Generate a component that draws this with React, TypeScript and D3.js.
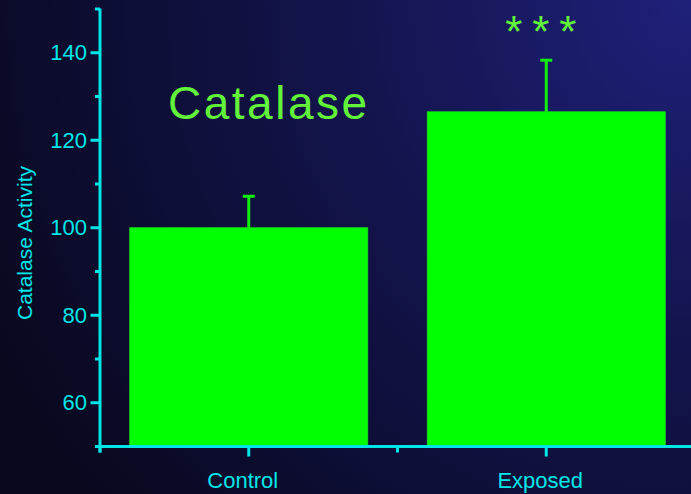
import React from "react";
import * as d3 from "d3";

const categories = ["Control", "Exposed"];
const values = [100, 126.5];
const errors = [7.2, 11.8];
const majorTicks = [60, 80, 100, 120, 140];
const minorTicks = [50, 70, 90, 110, 130, 150];
const title = "Catalase";
const yTitle = "Catalase Activity";
const significance = ["", "*"];

const W = 691;
const H = 494;
const CYAN = "#00e6e6";
const GREEN = "#00ff00";
const LIGHT_GREEN = "#62f23a";
const FONT = "'Liberation Sans', Arial, sans-serif";

export default function App() {
  const x = d3
    .scaleBand<string>()
    .domain(categories)
    .range([100, 695])
    .paddingInner(0.2)
    .paddingOuter(0.1);
  const y = d3.scaleLinear().domain([50, 150]).range([446.5, 9]);
  const step = x.step();
  const boundaries = [0, 1, 2].map((i) => 100 + i * step);
  const axisY = y(50);
  const axisX = 100;

  return (
    <svg
      width={W}
      height={H}
      style={{ position: "absolute", left: 0, top: 0, display: "block" }}
    >
      <defs>
        <radialGradient id="bg" cx={W} cy={0} r={780} gradientUnits="userSpaceOnUse">
          <stop offset="0" stopColor="#1f2079" />
          <stop offset="0.45" stopColor="#13144c" />
          <stop offset="1" stopColor="#08081f" />
        </radialGradient>
      </defs>
      <rect x={0} y={0} width={W} height={H} fill="url(#bg)" />

      {/* bars */}
      {categories.map((c, i) => (
        <rect
          key={c}
          x={x(c)!}
          y={y(values[i])}
          width={x.bandwidth()}
          height={axisY - y(values[i])}
          fill={GREEN}
          stroke="#22dd22"
          strokeWidth={0.8}
        />
      ))}

      {/* error bars */}
      {categories.map((c, i) => {
        const cx = x(c)! + x.bandwidth() / 2;
        const top = y(values[i] + errors[i]);
        return (
          <g key={"e" + c} stroke="#10ee10" strokeWidth={3}>
            <line x1={cx} x2={cx} y1={y(values[i])} y2={top} />
            <line x1={cx - 6} x2={cx + 6} y1={top} y2={top} />
          </g>
        );
      })}

      {/* y axis */}
      <g stroke={CYAN} strokeWidth={3}>
        <line x1={axisX} x2={axisX} y1={y(150) - 0.5} y2={axisY + 6} />
        {majorTicks.map((t) => (
          <line key={"M" + t} x1={axisX - 9.5} x2={axisX} y1={y(t)} y2={y(t)} />
        ))}
        {minorTicks.map((t) => (
          <line key={"m" + t} x1={axisX - 5} x2={axisX} y1={y(t)} y2={y(t)} />
        ))}
        {/* x axis */}
        <line x1={axisX - 5} x2={W} y1={axisY} y2={axisY} />
        {categories.map((c) => {
          const cx = x(c)! + x.bandwidth() / 2;
          return <line key={"xt" + c} x1={cx} x2={cx} y1={axisY} y2={axisY + 10} />;
        })}
        {boundaries.map((b, i) => (
          <line key={"xb" + i} x1={b} x2={b} y1={axisY} y2={axisY + 6} />
        ))}
      </g>

      {majorTicks.map((t) => (
        <text
          key={"l" + t}
          x={87}
          y={y(t)}
          dy="0.35em"
          textAnchor="end"
          fill={CYAN}
          fontFamily={FONT}
          fontSize={22}
        >
          {t}
        </text>
      ))}

      {categories.map((c) => (
        <text
          key={"xl" + c}
          x={x(c)! + x.bandwidth() / 2 - 6}
          y={488}
          textAnchor="middle"
          fill={CYAN}
          fontFamily={FONT}
          fontSize={22}
        >
          {c}
        </text>
      ))}

      <text
        transform={`translate(32,243) rotate(-90)`}
        textAnchor="middle"
        fill={CYAN}
        fontFamily={FONT}
        fontSize={21}
      >
        {yTitle}
      </text>

      <text
        x={168}
        y={119}
        fill={LIGHT_GREEN}
        fontFamily={FONT}
        fontSize={46}
        letterSpacing={2.5}
      >
        {title}
      </text>

      {categories.map((c, i) =>
        significance[i]
          ? [-27, 0, 27].map((off, k) => (
              <text
                key={"s" + k}
                x={x(c)! + x.bandwidth() / 2 - 5.5 + off}
                y={47}
                textAnchor="middle"
                fill={LIGHT_GREEN}
                fontFamily={FONT}
                fontSize={44}
              >
                {significance[i]}
              </text>
            ))
          : null
      )}
    </svg>
  );
}
